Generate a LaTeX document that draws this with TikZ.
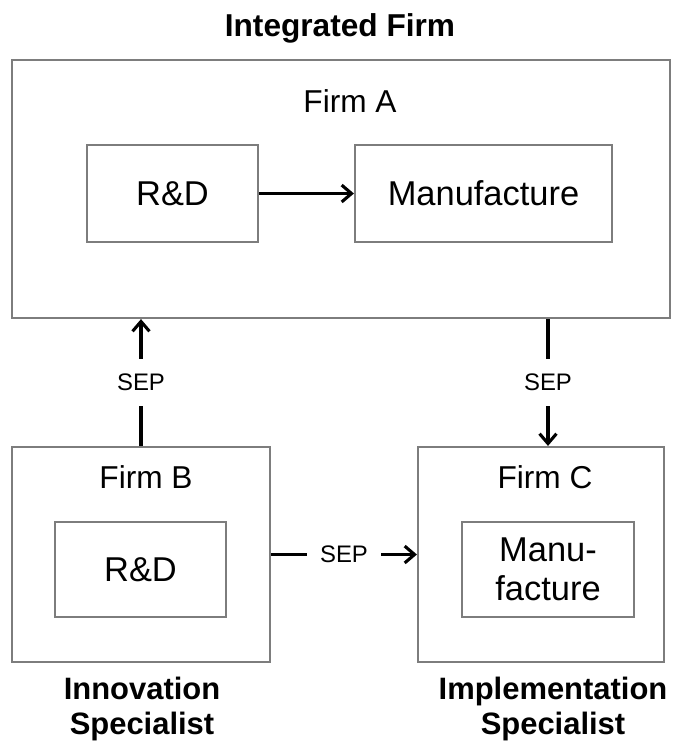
\documentclass[tikz,border=0pt]{standalone}
\usepackage{fontspec}
\setmainfont{Liberation Sans}
\usetikzlibrary{arrows.meta}
\definecolor{boxgray}{RGB}{125,125,125}
\tikzset{
  firmbox/.style={draw=boxgray, line width=1.5pt, rectangle, inner sep=0pt},
  unitbox/.style={draw=boxgray, line width=1.5pt, rectangle, inner sep=0pt, align=center,
                  font=\fontsize{24.5pt}{27.5pt}\selectfont},
  flow/.style={draw=black, line width=2.2pt, -{Straight Barb[length=7pt,width=12pt,line width=2.2pt]}},
  seplabel/.style={fill=white, inner xsep=9pt, inner ysep=11pt, font=\fontsize{17pt}{20pt}\selectfont},
  firmname/.style={font=\fontsize{22.5pt}{26pt}\selectfont},
  rolelabel/.style={align=center, font=\bfseries\fontsize{22pt}{25pt}\selectfont}
}
\begin{document}
\begin{tikzpicture}[x=0.025cm, y=-0.025cm]
  \useasboundingbox (0,0) rectangle (680,744);

  % integrated firm
  \node[font=\bfseries\fontsize{22.5pt}{26pt}\selectfont] (title) at (340,28) {Integrated Firm};
  \node[firmbox, minimum width=16.45cm, minimum height=6.45cm] (fA) at (341,189) {};
  \node[firmname] (nameA) at (350,101) {Firm A};
  \node[unitbox, minimum width=4.275cm, minimum height=2.425cm] (rdA) at (172.5,193.5) {R\&D};
  \node[unitbox, minimum width=6.425cm, minimum height=2.425cm] (mA) at (483.5,193.5) {Manufacture};

  % specialists
  \node[firmbox, minimum width=6.45cm, minimum height=5.375cm] (fB) at (141,554.5) {};
  \node[firmname] (nameB) at (146,477) {Firm B};
  \node[unitbox, minimum width=4.275cm, minimum height=2.375cm] (rdB) at (140.5,569.5) {R\&D};

  \node[firmbox, minimum width=6.15cm, minimum height=5.375cm] (fC) at (541,554.5) {};
  \node[firmname] (nameC) at (545,477) {Firm C};
  \node[unitbox, minimum width=4.3cm, minimum height=2.375cm] (mC) at (548,569.5) {Manu-\\facture};

  \node[rolelabel] (roleB) at (142,709) {Innovation\\Specialist};
  \node[rolelabel] (roleC) at (553,709) {Implementation\\Specialist};

  % flows
  \draw[flow] (rdA) -- (mA);
  \draw[flow] (fB.north) -- node[seplabel] {SEP} (fB.north |- fA.south);
  \draw[flow] (fA.south -| mC) -- node[seplabel] {SEP} (mC |- fC.north);
  \draw[flow] (fB.east) -- node[seplabel] {SEP} (fC.west);
\end{tikzpicture}
\end{document}
